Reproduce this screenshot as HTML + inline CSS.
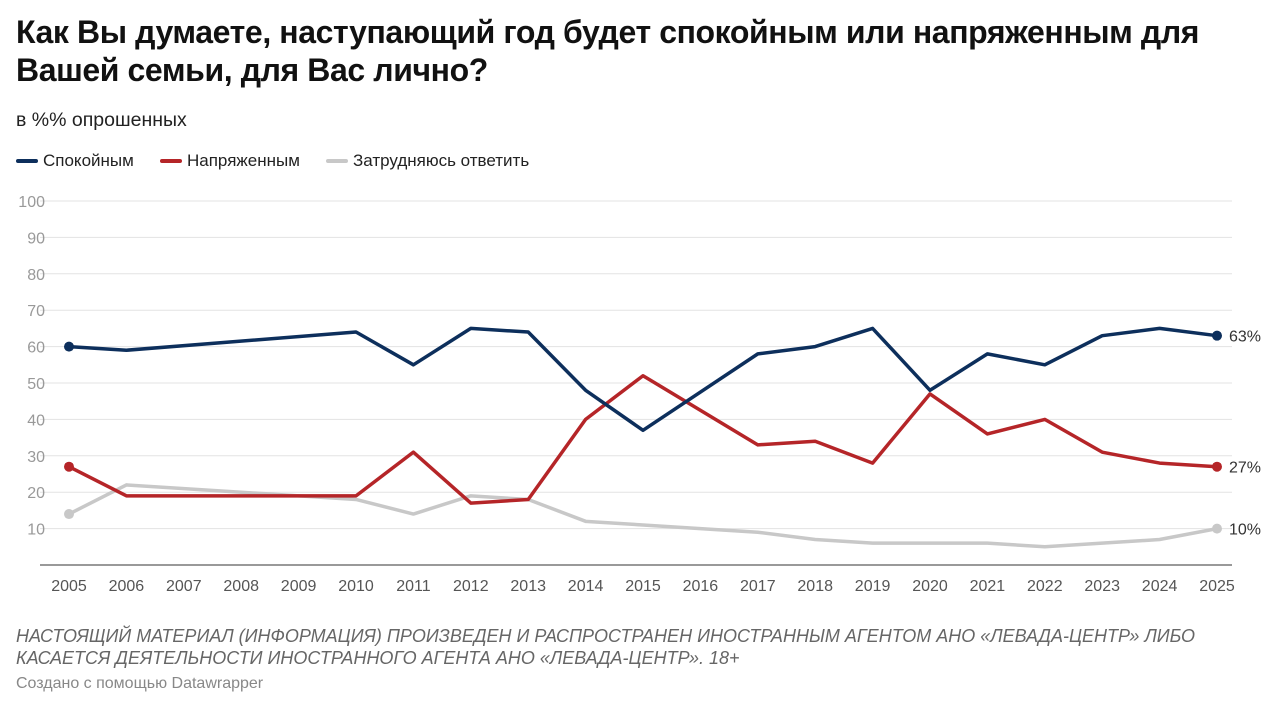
<!DOCTYPE html>
<html><head><meta charset="utf-8"><style>
body{margin:0;background:#fff;font-family:"Liberation Sans",sans-serif;width:1280px;height:710px;overflow:hidden;position:relative}
.t{position:absolute;left:16px;top:13px;font-size:32px;font-weight:bold;line-height:38px;color:#111;letter-spacing:-0.4px}
.s{position:absolute;left:16px;top:109px;font-size:19.5px;color:#222}
.lg{position:absolute;top:151px;font-size:17px;color:#222;display:flex;align-items:center}
.lg i{display:inline-block;width:22px;height:4px;border-radius:2px;margin-right:5px}
.n{position:absolute;left:16px;top:625px;font-size:18px;font-style:italic;color:#666;line-height:22px}
.c{position:absolute;left:16px;top:675px;font-size:16px;color:#888}
</style></head><body>
<div class="t">Как Вы думаете, наступающий год будет спокойным или напряженным для<br>Вашей семьи, для Вас лично?</div>
<div class="s">в %% опрошенных</div>
<div class="lg" style="left:16px"><i style="background:#0d2f5c"></i>Спокойным</div>
<div class="lg" style="left:160px"><i style="background:#b52528"></i>Напряженным</div>
<div class="lg" style="left:326px"><i style="background:#c8c8c8"></i>Затрудняюсь ответить</div>
<svg id="ch" width="1280" height="710" style="position:absolute;left:0;top:0"></svg>
<div class="n">НАСТОЯЩИЙ МАТЕРИАЛ (ИНФОРМАЦИЯ) ПРОИЗВЕДЕН И РАСПРОСТРАНЕН ИНОСТРАННЫМ АГЕНТОМ АНО «ЛЕВАДА-ЦЕНТР» ЛИБО<br>КАСАЕТСЯ ДЕЯТЕЛЬНОСТИ ИНОСТРАННОГО АГЕНТА АНО «ЛЕВАДА-ЦЕНТР». 18+</div>
<div class="c">Создано с помощью Datawrapper</div>
<script>
const years=[2005,2006,2010,2011,2012,2013,2014,2015,2017,2018,2019,2020,2021,2022,2023,2024,2025];
const calm=[60,59,64,55,65,64,48,37,58,60,65,48,58,55,63,65,63];
const tense=[27,19,19,31,17,18,40,52,33,34,28,47,36,40,31,28,27];
const unsure=[14,22,18,14,19,18,12,11,9,7,6,6,6,5,6,7,10];
const yTicks=[10,20,30,40,50,60,70,80,90,100];
const xTicks=[2005,2006,2007,2008,2009,2010,2011,2012,2013,2014,2015,2016,2017,2018,2019,2020,2021,2022,2023,2024,2025];
const NS="http://www.w3.org/2000/svg",svg=document.getElementById('ch');
const X=y=>69+(y-2005)*57.4, Y=v=>565-v*3.64;
function mk(t,a,p){const e=document.createElementNS(NS,t);for(const k in a)e.setAttribute(k,a[k]);(p||svg).appendChild(e);return e;}
yTicks.forEach(v=>{
 const l=mk('line',{x1:40,x2:1232,y1:Y(v),y2:Y(v),stroke:'#e3e3e3','stroke-width':1});
 
 
 const t=mk('text',{x:45,y:Y(v)+6,'text-anchor':'end','font-size':16,fill:'#999'});t.textContent=v;
 
 
});
const base=mk('line',{x1:40,x2:1232,y1:Y(0),y2:Y(0),stroke:'#333','stroke-width':1});


xTicks.forEach(y=>{
 const t=mk('text',{x:X(y),y:591,'text-anchor':'middle','font-size':16,fill:'#555'});t.textContent=y;
 
 
});
function series(vals,col,name){
 const p=mk('polyline',{points:years.map((y,i)=>X(y)+','+Y(vals[i])).join(' '),fill:'none',stroke:col,'stroke-width':3.5,'stroke-linejoin':'round'});
 
 
 [0,years.length-1].forEach(i=>{
  const c=mk('circle',{cx:X(years[i]),cy:Y(vals[i]),r:5,fill:col});
  
  
 });
 const n=years.length-1;
 const t=mk('text',{x:X(years[n])+12,y:Y(vals[n])+6,'font-size':16,fill:'#333'});t.textContent=vals[n]+'%';
 
 
}
series(unsure,'#c8c8c8','unsure');
series(tense,'#b52528','tense');
series(calm,'#0d2f5c','calm');
</script>
</body></html>
